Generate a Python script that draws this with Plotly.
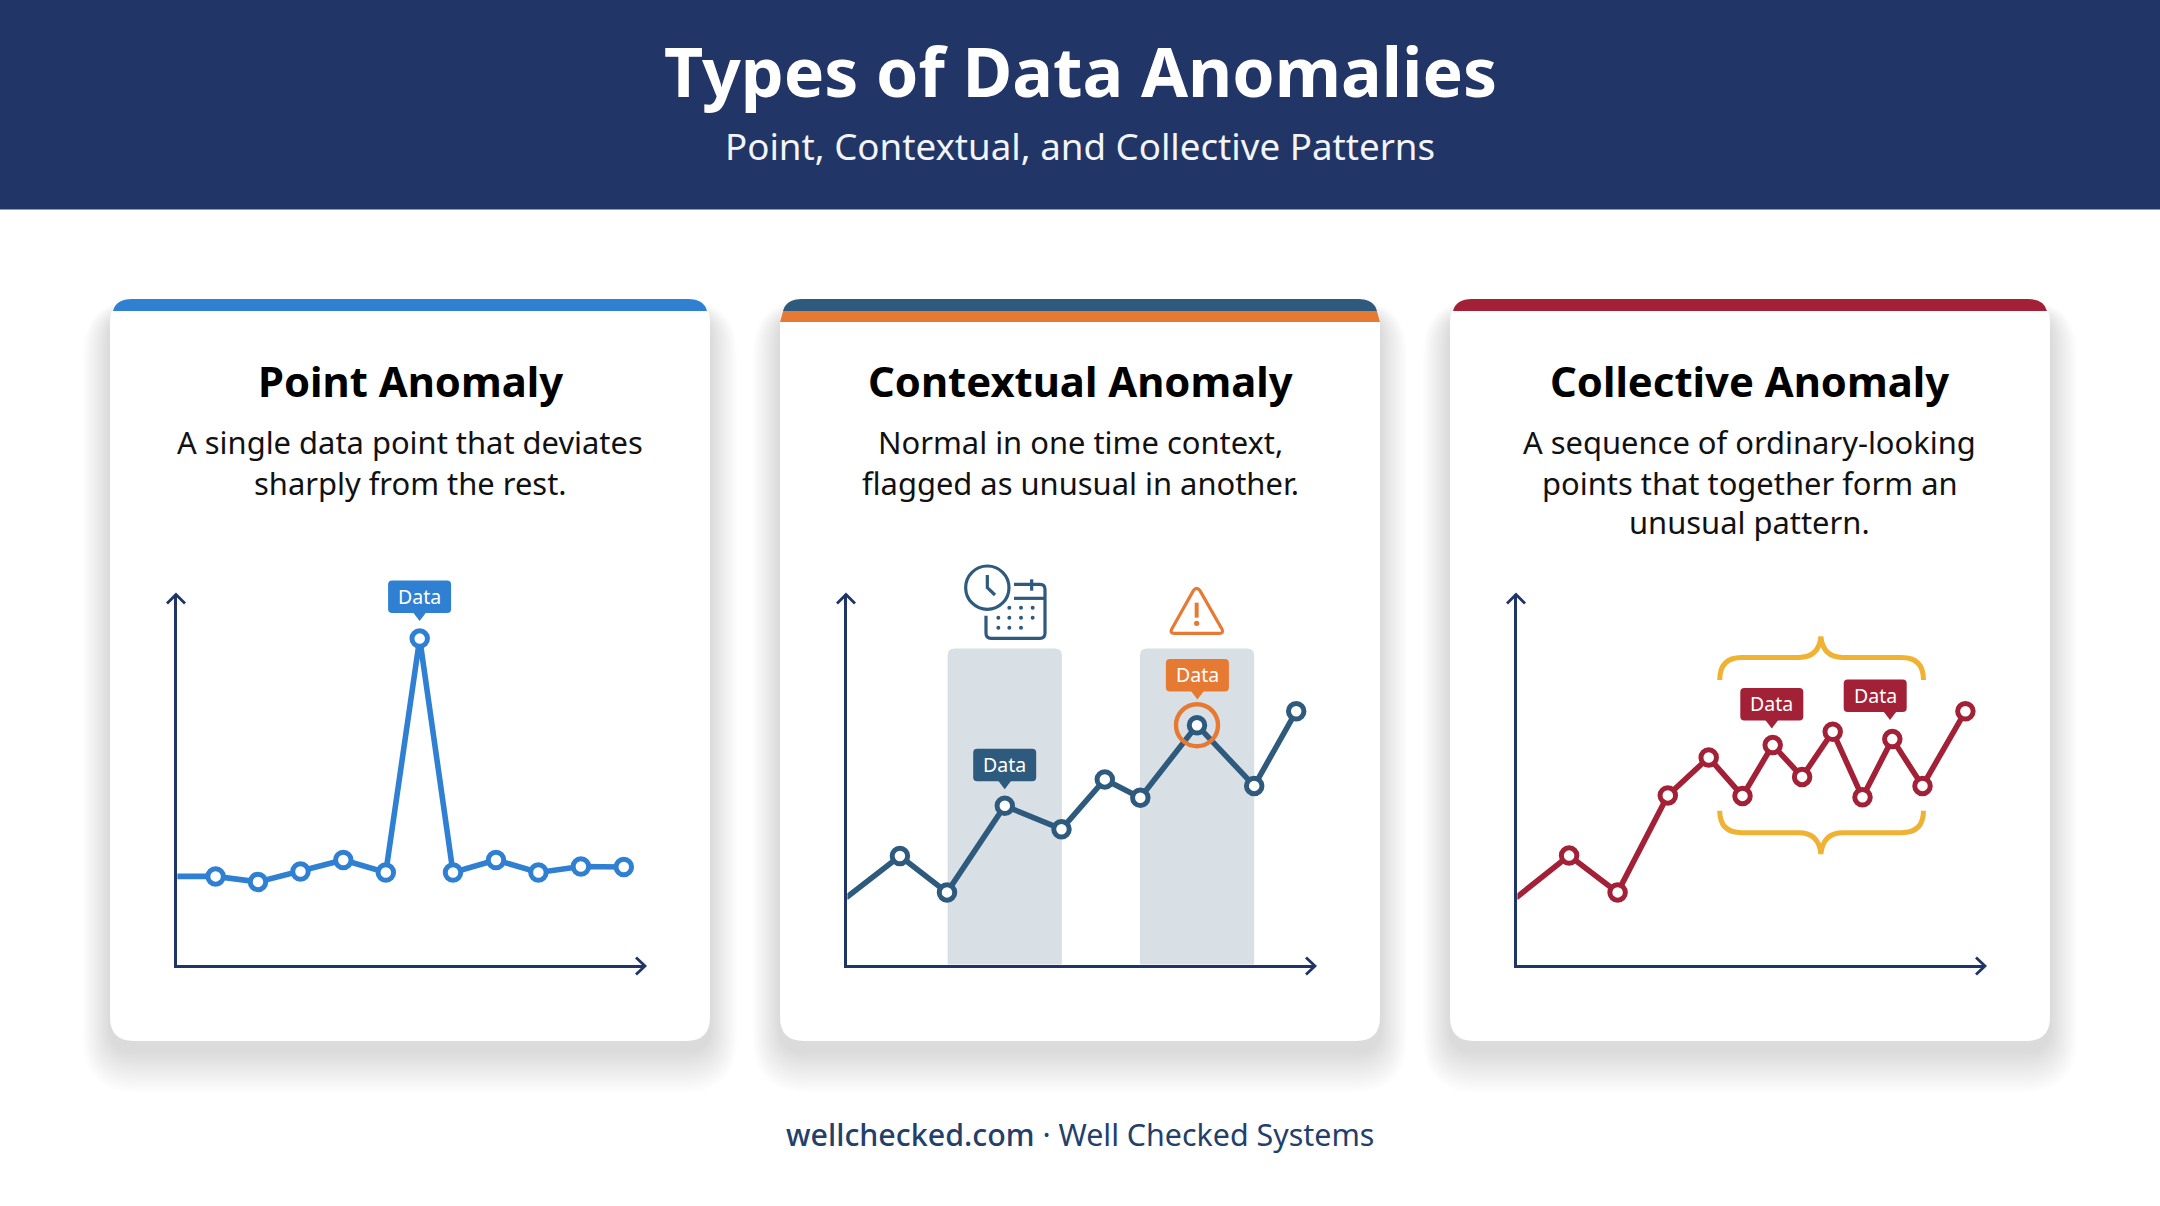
import plotly.graph_objects as go

# ---------- data ----------
title_text = "Types of Data Anomalies"
subtitle_text = "Point, Contextual, and Collective Patterns"
footer_bold = "wellchecked.com"
footer_rest = " · Well Checked Systems"
card_titles = ["Point Anomaly", "Contextual Anomaly", "Collective Anomaly"]
card_desc = [
    ["A single data point that deviates", "sharply from the rest."],
    ["Normal in one time context,", "flagged as unusual in another."],
    ["A sequence of ordinary-looking", "points that together form an", "unusual pattern."],
]
point_x = [0, 39.6, 82, 124.5, 167.3, 209.8, 243.7, 277, 320, 362.4, 404.9, 447.8]
point_y = [89.6, 89.6, 84.1, 94.5, 106, 93.5, 327.4, 93.5, 106, 93.5, 99.5, 99]
context_x = [0, 53.9, 101, 158.8, 215.5, 258.8, 294.3, 351, 408.2, 450.2]
context_y = [68.2, 110, 73.6, 160.2, 136.8, 186.6, 168.2, 240.8, 180.1, 254.7]
collective_x = [0, 53.1, 101.6, 151.8, 192.7, 226.5, 256.7, 286.1, 316.7, 346.5, 376.3, 406.5, 449.4]
collective_y = [68.2, 110.4, 73.6, 170.6, 208.5, 170.1, 220.9, 189.1, 234.3, 168.7, 226.9, 180.1, 254.7]
band_x0 = [101.6, 293.9]
band_x1 = [215.9, 408.2]
band_top = 317.4
callout_label = "Data"

# ---------- style ----------
W, H = 2160, 1206
NAVY = "#213566"
AXIS = "#1e3566"
BLUE = "#2f80d2"
TEAL = "#2e5a7e"
ORANGE = "#e77a33"
RED = "#a22136"
GOLD = "#f0b232"
BAND = "#d9e0e5"
FONT = "Noto Sans"
card_x = [110, 780, 1450]
card_w = 600
card_top, card_bot = 299, 1041
axis_x = [176, 846, 1516]
axis_y = 966.0
axis_lw = 2.8
plot_w, plot_h = 469, 371.6
axis_top = axis_y - plot_h


def px(x):
    return round(x / W, 6)


def py(y):
    return round(1 - y / H, 6)


def P(x, y):
    return f"{px(x)},{py(y)}"


def rrect(x0, y0, x1, y1, r):
    return (f"M{P(x0 + r, y0)} L{P(x1 - r, y0)} Q{P(x1, y0)} {P(x1, y0 + r)} "
            f"L{P(x1, y1 - r)} Q{P(x1, y1)} {P(x1 - r, y1)} L{P(x0 + r, y1)} "
            f"Q{P(x0, y1)} {P(x0, y1 - r)} L{P(x0, y0 + r)} Q{P(x0, y0)} {P(x0 + r, y0)} Z")


shapes, ann = [], []


def pshape(path, fill=None, line=None, lw=0, layer="below", opacity=1):
    shapes.append(dict(type="path", xref="paper", yref="paper", path=path, layer=layer, opacity=opacity,
                       fillcolor=fill or "rgba(0,0,0,0)",
                       line=dict(color=line or "rgba(0,0,0,0)", width=lw)))


def text(x, y, s, size, color, weight=400):
    ann.append(dict(xref="paper", yref="paper", x=px(x), y=py(y), text=s, showarrow=False,
                    xanchor="center", yanchor="middle",
                    font=dict(family=FONT, size=size, color=color, weight=weight)))


# header
shapes.append(dict(type="rect", xref="paper", yref="paper", x0=0, x1=1, y0=py(209.5), y1=1,
                   fillcolor=NAVY, line=dict(width=0), layer="below"))
text(1080, 71, title_text, 68, "#ffffff", 700)
text(1080, 145.5, subtitle_text, 36.7, "#f2f4f8")

# cards
for i, cx in enumerate(card_x):
    for k in range(36, 0, -2):
        pshape(rrect(cx - k * 0.75, card_top + 16 - k * 0.4, cx + card_w + k * 0.75, card_bot + 10 + k * 1.15, 24 + k * 0.8),
               fill="rgba(0,0,0,0.009)")
    pshape(rrect(cx, card_top, cx + card_w, card_bot, 24), fill="#ffffff")
    # coloured top strip
    top = [BLUE, TEAL, RED][i]
    pshape(f"M{P(cx + 3, card_top + 12)} Q{P(cx + 6, card_top)} {P(cx + 22, card_top)} "
           f"L{P(cx + card_w - 22, card_top)} Q{P(cx + card_w - 6, card_top)} {P(cx + card_w - 3, card_top + 12)} Z",
           fill=top)
    if i == 1:
        pshape(f"M{P(cx, card_top + 23)} L{P(cx + 3, card_top + 12)} L{P(cx + card_w - 3, card_top + 12)} "
               f"L{P(cx + card_w, card_top + 23)} Z", fill=ORANGE)
    text(cx + card_w / 2, 380.6, card_titles[i], 41.8, "#000000", 700)
    for j, line in enumerate(card_desc[i]):
        text(cx + card_w / 2, 442.5 + j * 40, line, 30.9, "#111111")

# bands (data coordinates of the middle chart)
for a, b in zip(band_x0, band_x1):
    r = 7
    shapes.append(dict(type="path", xref="x2", yref="y2", layer="below", fillcolor=BAND, line=dict(width=0),
                       path=(f"M{a},0 L{a},{band_top - r} Q{a},{band_top} {a + r},{band_top} "
                             f"L{b - r},{band_top} Q{b},{band_top} {b},{band_top - r} L{b},0 Z")))


# traces
def series(xs, ys, color, sub):
    xa, ya = ("x", "y") if sub == 1 else (f"x{sub}", f"y{sub}")
    return [
        go.Scatter(x=xs, y=ys, mode="lines", xaxis=xa, yaxis=ya, showlegend=False, hoverinfo="skip",
                   line=dict(color=color, width=5.6)),
        go.Scatter(x=xs[1:], y=ys[1:], mode="markers", xaxis=xa, yaxis=ya, showlegend=False,
                   marker=dict(size=15.5, color="#ffffff", line=dict(color=color, width=5))),
    ]


traces = series(point_x, point_y, BLUE, 1) + series(context_x, context_y, TEAL, 2) + series(collective_x, collective_y, RED, 3)

# axis arrowheads
for ax in axis_x:
    pshape(f"M{P(ax - 9, axis_top + 9)} L{P(ax, axis_top)} L{P(ax + 9, axis_top + 9)}", line=AXIS, lw=axis_lw, layer="above")
    pshape(f"M{P(ax + 460, axis_y - 8.5)} L{P(ax + 469, axis_y)} L{P(ax + 460, axis_y + 8.5)}", line=AXIS, lw=axis_lw, layer="above")


# callouts
def callout(cx, top, tail_x, color):
    w, h = 63, 32.5
    x0, x1 = cx - w / 2, cx + w / 2
    y1 = top + h
    pshape(rrect(x0, top, x1, y1, 4), fill=color, layer="above")
    pshape(f"M{P(tail_x - 6.5, y1 - 0.5)} L{P(tail_x, y1 + 8)} L{P(tail_x + 6.5, y1 - 0.5)} Z", fill=color, layer="above")
    text(cx, top + h / 2 - 0.5, callout_label, 19.5, "#ffffff")


callout(419.6, 580.5, 419.6, BLUE)
callout(1004.7, 748.7, 1004.7, TEAL)
callout(1197.4, 659, 1197.4, ORANGE)
callout(1771.8, 688, 1771.8, RED)
callout(1875.2, 679.5, 1890, RED)

# highlight ring
shapes.append(dict(type="circle", xref="x2", yref="y2", layer="above",
                   x0=context_x[7] - 21, x1=context_x[7] + 21, y0=context_y[7] - 21, y1=context_y[7] + 21,
                   fillcolor="rgba(0,0,0,0)", line=dict(color=ORANGE, width=4.4)))

# braces (chart 3, data units)
bl, bm, br = 203.7, 304.9, 407.5
shapes.append(dict(type="path", xref="x3", yref="y3", layer="above", line=dict(color=GOLD, width=5),
                   path=(f"M{bl},286 Q{bl},308.5 {bl + 22},308.5 L{bm - 22},308.5 Q{bm - 2},308.5 {bm},329.4 "
                         f"Q{bm + 2},308.5 {bm + 22},308.5 L{br - 22},308.5 Q{br},308.5 {br},286")))
shapes.append(dict(type="path", xref="x3", yref="y3", layer="above", line=dict(color=GOLD, width=5),
                   path=(f"M{bl},155.2 Q{bl},133.3 {bl + 22},133.3 L{bm - 22},133.3 Q{bm - 2},133.3 {bm},111.9 "
                         f"Q{bm + 2},133.3 {bm + 22},133.3 L{br - 22},133.3 Q{br},133.3 {br},155.2")))

# clock + calendar icon (offset of the zoomed icon, 1/3 scale)
def I(a, b):
    return P(940 + a / 3, 550 + b / 3)


pshape(f"M{I(142, 75)} L{I(142, 113)} L{I(165, 135)}", line=TEAL, lw=3.2, layer="above")
shapes.append(dict(type="circle", xref="paper", yref="paper", layer="above",
                   x0=px(940 + 77 / 3), x1=px(940 + 207 / 3), y0=py(550 + 178 / 3), y1=py(550 + 48 / 3),
                   line=dict(color=TEAL, width=3.2), fillcolor="rgba(0,0,0,0)"))
pshape(f"M{I(138, 197)} L{I(138, 250)} Q{I(138, 265)} {I(153, 265)} L{I(300, 265)} Q{I(315, 265)} {I(315, 250)} "
       f"L{I(315, 118)} Q{I(315, 103)} {I(300, 103)} L{I(222, 103)}", line=TEAL, lw=3.2, layer="above")
pshape(f"M{I(222, 145)} L{I(315, 145)}", line=TEAL, lw=3.2, layer="above")
pshape(f"M{I(275, 88)} L{I(275, 122)}", line=TEAL, lw=3.2, layer="above")
for (a, b) in [(208, 173), (243, 173), (278, 173), (175, 203), (208, 203), (243, 203), (278, 203), (175, 233), (208, 233), (243, 233)]:
    shapes.append(dict(type="circle", xref="paper", yref="paper", layer="above", fillcolor=TEAL, line=dict(width=0),
                       x0=px(940 + a / 3 - 2), x1=px(940 + a / 3 + 2), y0=py(550 + b / 3 + 2), y1=py(550 + b / 3 - 2)))

# warning icon
pshape(f"M{I(760, 122)} Q{I(770, 108)} {I(780, 122)} L{I(846, 238)} Q{I(852, 250)} {I(838, 250)} "
       f"L{I(703, 250)} Q{I(689, 250)} {I(695, 238)} Z", line=ORANGE, lw=3.2, layer="above")
pshape(f"M{I(770, 158)} L{I(770, 203)}", line=ORANGE, lw=4, layer="above")
shapes.append(dict(type="circle", xref="paper", yref="paper", layer="above", fillcolor=ORANGE, line=dict(width=0),
                   x0=px(940 + 770 / 3 - 2.7), x1=px(940 + 770 / 3 + 2.7), y0=py(550 + 220 / 3 + 2.7), y1=py(550 + 220 / 3 - 2.7)))

# footer
ann.append(dict(xref="paper", yref="paper", x=0.5, y=py(1134), showarrow=False, xanchor="center", yanchor="middle",
                text=f"<span style='font-weight:500'>{footer_bold}</span>{footer_rest}",
                font=dict(family=FONT, size=30.4, color="#23406a")))

layout = dict(width=W, height=H, margin=dict(l=0, r=0, t=0, b=0), paper_bgcolor="#ffffff",
              plot_bgcolor="rgba(0,0,0,0)", showlegend=False, shapes=shapes, annotations=ann,
              hovermode=False)
# the axis line is drawn just outside the plot area: start the domains half a line width in, so it centres on the origin
half = axis_lw / 2
for i, ax in enumerate(axis_x):
    suffix = "" if i == 0 else str(i + 1)
    common = dict(showgrid=False, zeroline=False, showticklabels=False, ticks="", showline=True,
                  linecolor=AXIS, linewidth=axis_lw, fixedrange=True)
    layout[f"xaxis{suffix}"] = dict(domain=[px(ax + half), px(ax + plot_w)], range=[half, plot_w],
                                    anchor=f"y{suffix}", **common)
    layout[f"yaxis{suffix}"] = dict(domain=[py(axis_y - half), py(axis_top)], range=[half, plot_h],
                                    anchor=f"x{suffix}", **common)

fig = go.Figure(data=traces, layout=layout)
fig.write_html("out.html", config=dict(displayModeBar=False),
               post_script="document.body.style.margin='0';document.documentElement.style.overflow='hidden';window.dispatchEvent(new Event('resize'));")
